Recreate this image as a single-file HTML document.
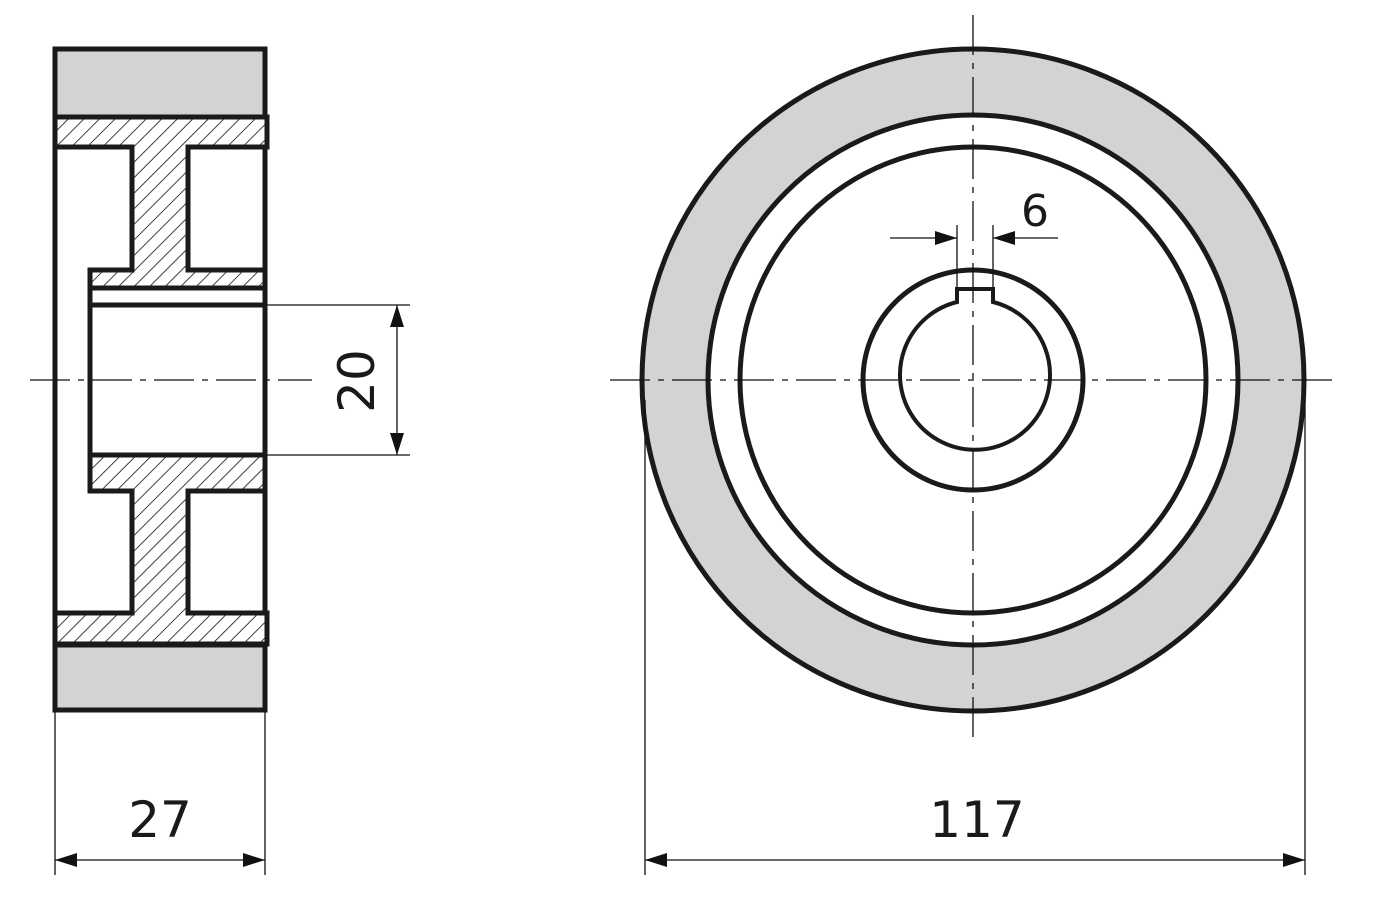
<!DOCTYPE html>
<html><head><style>html,body{margin:0;padding:0;background:#fff}</style></head>
<body>
<svg width="1381" height="894" viewBox="0 0 1381 894" xmlns="http://www.w3.org/2000/svg">
<defs>
<pattern id="h" patternUnits="userSpaceOnUse" width="11" height="11" patternTransform="rotate(45)">
<rect width="11" height="11" fill="#fff"/>
<line x1="0" y1="0" x2="0" y2="11" stroke="#111" stroke-width="1.6"/>
</pattern>
<marker id="a" viewBox="0 0 22 14" refX="22" refY="7" markerWidth="22" markerHeight="14" markerUnits="userSpaceOnUse" orient="auto">
<path d="M0,0 L22,7 L0,14 z" fill="#111"/>
</marker>
</defs>
<g stroke="#1a1a1a" stroke-width="5" stroke-linejoin="miter">
<rect x="55" y="49" width="210" height="661" fill="#fff"/>
<rect x="55" y="49" width="210" height="68" fill="#d1d3d4"/>
<rect x="55" y="645" width="210" height="65" fill="#d1d3d4"/>
<path d="M55,117 L267,117 L267,147 L188,147 L188,270 L265,270 L265,288 L90,288 L90,270 L132,270 L132,147 L55,147 Z" fill="url(#h)"/>
<path d="M55,644 L267,644 L267,613 L188,613 L188,491 L265,491 L265,455 L90,455 L90,491 L132,491 L132,613 L55,613 Z" fill="url(#h)"/>
<rect x="90" y="288" width="175" height="167" fill="#fff"/>
<line x1="90" y1="305" x2="265" y2="305"/>
<circle cx="973" cy="380" r="331" fill="#d1d3d4"/>
<circle cx="973" cy="380" r="265" fill="#fff"/>
<circle cx="973" cy="380" r="233" fill="#fff"/>
<circle cx="973" cy="380" r="110" fill="#fff"/>
<path d="M957,302 L957,289 L993,289 L993,302 A75,75 0 1 1 957,302 Z" fill="#fff" stroke-width="4"/>
</g>
<g stroke="#111" stroke-width="1.3" fill="none">
<line x1="30" y1="380" x2="312" y2="380" stroke-dasharray="40,8,6,8"/>
<line x1="610" y1="380" x2="1340" y2="380" stroke-dasharray="40,8,6,8"/>
<line x1="973" y1="15" x2="973" y2="745" stroke-dasharray="40,8,6,8"/>
<line x1="55" y1="710" x2="55" y2="875"/>
<line x1="265" y1="710" x2="265" y2="875"/>
<line x1="100" y1="860" x2="55" y2="860" marker-end="url(#a)"/>
<line x1="100" y1="860" x2="265" y2="860" marker-end="url(#a)"/>
<line x1="645" y1="400" x2="645" y2="875"/>
<line x1="1305" y1="400" x2="1305" y2="875"/>
<line x1="900" y1="860" x2="645" y2="860" marker-end="url(#a)"/>
<line x1="900" y1="860" x2="1305" y2="860" marker-end="url(#a)"/>
<line x1="265" y1="305" x2="410" y2="305"/>
<line x1="265" y1="455" x2="410" y2="455"/>
<line x1="397" y1="380" x2="397" y2="305" marker-end="url(#a)"/>
<line x1="397" y1="380" x2="397" y2="455" marker-end="url(#a)"/>
<line x1="957" y1="225" x2="957" y2="290"/>
<line x1="993" y1="225" x2="993" y2="290"/>
<line x1="890" y1="238" x2="957" y2="238" marker-end="url(#a)"/>
<line x1="1058" y1="238" x2="993" y2="238" marker-end="url(#a)"/>
</g>
<g font-family="'DejaVu Sans','Liberation Sans',sans-serif" font-size="50" fill="#1a1a1a" text-anchor="middle">
<text x="160" y="837">27</text>
<text x="977" y="837">117</text>
<text x="1035" y="226" font-size="44">6</text>
<text transform="translate(374,381) rotate(-90)">20</text>
</g>
</svg>
</body></html>
